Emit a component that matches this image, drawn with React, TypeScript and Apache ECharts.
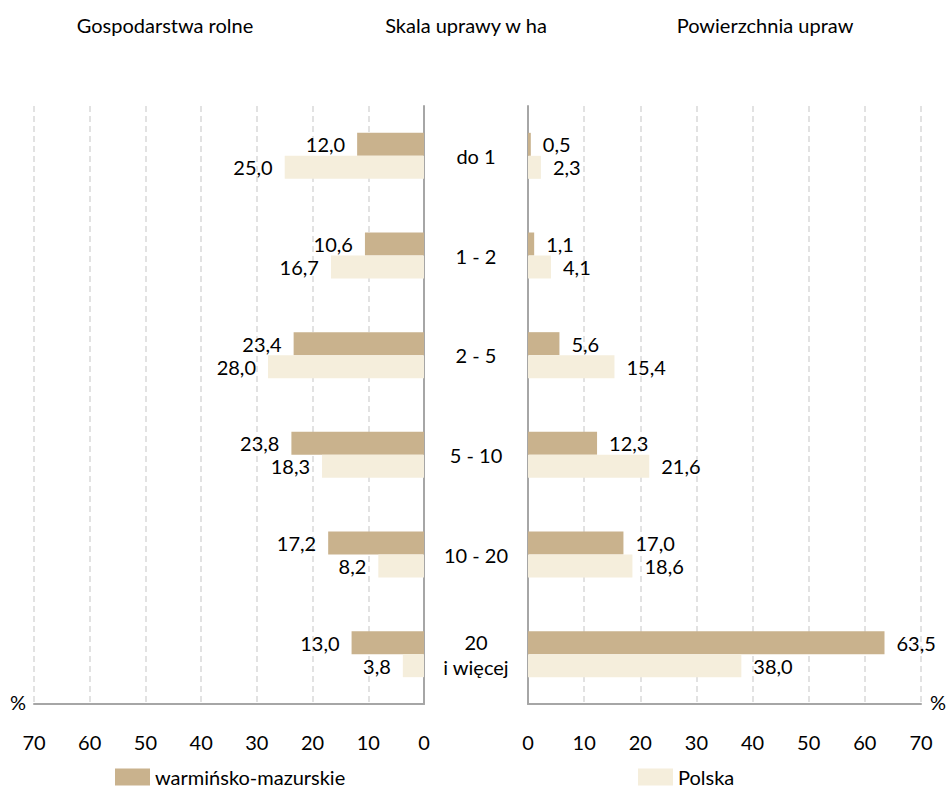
import React, { useEffect, useRef } from "react";
import * as echarts from "echarts";

const categories = ["do 1", "1 - 2", "2 - 5", "5 - 10", "10 - 20", "20\ni więcej"];
const farmsRegion = [12.0, 10.6, 23.4, 23.8, 17.2, 13.0];
const farmsPoland = [25.0, 16.7, 28.0, 18.3, 8.2, 3.8];
const areaRegion = [0.5, 1.1, 5.6, 12.3, 17.0, 63.5];
const areaPoland = [2.3, 4.1, 15.4, 21.6, 18.6, 38.0];
const seriesNames = ["warmińsko-mazurskie", "Polska"];
const titles = ["Gospodarstwa rolne", "Skala uprawy w ha", "Powierzchnia upraw"];

const BROWN = "#C9B28D";
const LIGHT = "#F5EEDC";
const FONT = "Lato, 'Open Sans', sans-serif";
const FS = 20;
const AXIS = "#A6A6A6";

const fmt = (p: any) => Number(p.value).toFixed(1).replace(".", ",");

export default function App() {
  const ref = useRef<HTMLDivElement>(null);
  useEffect(() => {
    if (!ref.current) return;
    const chart = echarts.init(ref.current, null, { renderer: "svg" });
    const valueAxis = (gridIndex: number, inverse: boolean) => ({
      type: "value",
      gridIndex,
      min: 0,
      max: 70,
      interval: 10,
      inverse,
      axisLine: { show: true, lineStyle: { color: AXIS, width: 2 } },
      axisTick: { show: false },
      axisLabel: { color: "#000", fontSize: FS, fontFamily: FONT, margin: 28 },
      splitLine: { show: true, lineStyle: { color: "#D9D9D9", width: 1.5, type: [6, 4] } },
    });
    const catAxis = (gridIndex: number, position: string, showLabel: boolean) => ({
      type: "category",
      gridIndex,
      data: categories,
      inverse: true,
      position,
      axisLine: { show: true, lineStyle: { color: AXIS, width: 2 } },
      axisTick: { show: false },
      axisLabel: {
        show: showLabel,
        color: "#000",
        fontSize: FS,
        fontFamily: FONT,
        align: "center",
        margin: 52,
        lineHeight: 25,
        padding: [6, 0, 0, 0],
      },
    });
    const bar = (name: string, data: number[], idx: number, color: string, pos: string) => ({
      type: "bar",
      name,
      xAxisIndex: idx,
      yAxisIndex: idx,
      data,
      barWidth: 23,
      barGap: "0%",
      itemStyle: { color },
      label: {
        show: true,
        position: pos,
        distance: 12,
        formatter: fmt,
        color: "#000",
        fontSize: FS,
        fontFamily: FONT,
      },
    });
    const legendBase = {
      top: 762,
      itemWidth: 35,
      itemHeight: 17,
      icon: "rect",
      textStyle: { color: "#000", fontSize: FS, fontFamily: FONT },
    };
    const pct = (x: number) => ({
      type: "text",
      x,
      y: 702,
      style: {
        text: "%",
        align: "center",
        verticalAlign: "middle",
        textAlign: "center",
        textVerticalAlign: "middle",
        fill: "#000",
        fontSize: FS,
        fontFamily: FONT,
      },
    });
    chart.setOption({
      animation: false,
      backgroundColor: "#fff",
      grid: [
        { left: 34, right: 947 - 424, top: 106, bottom: 786 - 704 },
        { left: 528, right: 947 - 921, top: 106, bottom: 786 - 704 },
      ],
      xAxis: [valueAxis(0, true), valueAxis(1, false)],
      yAxis: [catAxis(0, "right", false), catAxis(1, "left", true)],
      legend: [
        { ...legendBase, data: [seriesNames[0]], left: 110 },
        { ...legendBase, data: [seriesNames[1]], left: 633 },
      ],
      series: [
        bar(seriesNames[0], farmsRegion, 0, BROWN, "left"),
        bar(seriesNames[1], farmsPoland, 0, LIGHT, "left"),
        bar(seriesNames[0], areaRegion, 1, BROWN, "right"),
        bar(seriesNames[1], areaPoland, 1, LIGHT, "right"),
      ],
      graphic: [
        ...titles.map((t, i) => ({
          type: "text",
          x: [165, 466, 765][i],
          y: 25,
          style: {
            text: t,
            align: "center",
            verticalAlign: "middle",
            textAlign: "center",
            textVerticalAlign: "middle",
            fill: "#000",
            fontSize: FS,
            fontFamily: FONT,
          },
        })),
        pct(18),
        pct(938),
      ],
    });
    return () => chart.dispose();
  }, []);
  return <div ref={ref} style={{ position: "fixed", left: 0, top: 0, width: 947, height: 786 }} />;
}
